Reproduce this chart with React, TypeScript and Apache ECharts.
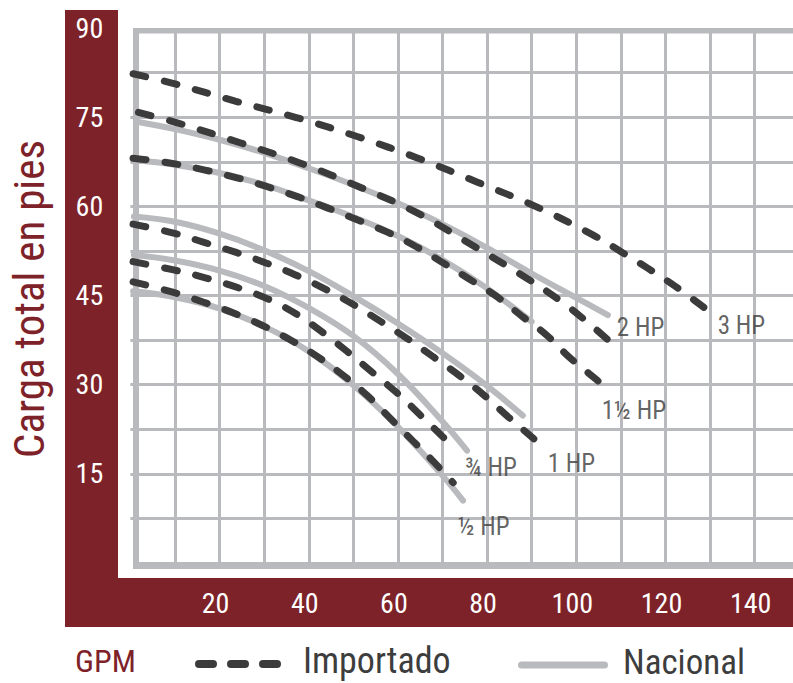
import React, { useEffect, useRef } from 'react';
import * as echarts from 'echarts';

const FONT = "'Liberation Sans Narrow', 'Roboto Condensed', 'DejaVu Sans Condensed', 'Arial Narrow', sans-serif";
const RED = '#7e2229';
const GRID = '#b9babd';
const DARK = '#3b3b3c';
const NAC = '#b9babd';

// Importado (dashed) curves: [GPM, ft]
const imp3HP = [[0.6, 82.3], [10, 80.6], [23.5, 77.7], [37.4, 74.9], [51, 71.7], [64.5, 68.1], [77.7, 64.1], [91.1, 59.9], [103.7, 55.2], [110.4, 52.2], [116, 49.6], [122.1, 46.6], [130, 42.2]];
const imp2HP = [[1.8, 75.8], [10.7, 74.0], [24.6, 70.7], [38, 67.3], [51.9, 63.1], [64.3, 58.9], [76.6, 53.5], [88.9, 47.9], [97, 43.8], [103, 40.2], [108.2, 36.8]];
const imp15HP = [[0.6, 68.1], [8.8, 67.3], [16.7, 66.1], [23.9, 64.8], [30.7, 63.3], [37.6, 61.6], [44.3, 59.7], [51, 57.7], [57.5, 55.7], [63.4, 53.5], [69.9, 50.6], [75.7, 47.9], [82.2, 44.8], [88, 41.4], [93.4, 38.3], [98.6, 34.5], [104.6, 30.8], [106.2, 29.6]];
const imp1HP = [[0.6, 57.0], [9.7, 55.5], [16.7, 53.9], [23.9, 52.2], [30.7, 50.4], [36.9, 48.5], [43.6, 46.1], [50.2, 43.4], [56.2, 40.6], [62, 37.8], [67.9, 34.7], [74, 31.4], [79.5, 28.1], [84.7, 24.6], [90.3, 21], [91.4, 20.2]];
const imp34HP = [[0.6, 50.7], [9.7, 49.3], [17.2, 47.9], [24.2, 46.3], [30.9, 44.4], [37.4, 41.8], [43.3, 38.7], [48.6, 35.6], [54.2, 32.1], [59.8, 28.6], [65, 24.9], [70.1, 21.2], [71.7, 20.0]];
const imp12HP = [[0.6, 47.3], [9.3, 45.6], [16.3, 43.9], [23, 42.1], [29.5, 40], [36.2, 37.4], [41.8, 34.8], [47.7, 31.6], [53.1, 28.2], [58.2, 24.4], [63.4, 20.5], [68.3, 16.8], [72.4, 13.5]];

// Nacional (solid gray) curves
const nac2HP = [[1.8, 74.2], [10, 73.0], [20, 71.2], [30, 69.0], [40, 66.4], [50, 63.6], [60, 60.5], [70, 57.0], [80, 53.0], [90, 48.7], [100, 44.6], [107.1, 41.7]];
const nac15HP = [[0.8, 67.8], [10, 67.0], [20, 65.6], [30, 63.6], [40, 61.0], [50, 58.2], [60, 55.0], [70, 51.0], [80, 46.2], [90, 40.6]];
const nac1HP = [[0.8, 58.3], [10, 57.4], [20, 55.4], [30, 52.6], [40, 49.1], [50, 44.9], [60, 40.3], [70, 35.3], [80, 29.8], [88, 24.8]];
const nac34HP = [[0.8, 51.8], [10, 50.9], [20, 49.2], [30, 46.6], [40, 42.9], [50, 38.2], [60, 31.8], [70, 23.8], [75.5, 18.9]];
const nac12HP = [[0.6, 45.7], [10, 44.7], [20, 42.8], [30, 39.8], [40, 35.6], [50, 29.9], [60, 22.9], [70, 14.7], [74.6, 10.5]];

const hpLabels = ['3 HP', '2 HP', '1½ HP', '1 HP', '¾ HP', '½ HP'];
const hpLabelAt = [[131.7, 40.0], [109.1, 39.7], [105.7, 25.6], [93.6, 16.7], [75.0, 16.0], [73.4, 6.1]];

const xTickLabels = [20, 40, 60, 80, 100, 120, 140];
const yTickLabels = [15, 30, 45, 60, 75, 90];

const yTitle = 'Carga total en pies';
const xTitle = 'GPM';
const legendNames = ['Importado', 'Nacional'];

function dashed(data: number[][]) {
  return {
    type: 'line', data, smooth: 0.4, showSymbol: false, silent: true, z: 3,
    lineStyle: { color: DARK, width: 7, type: [13, 19], cap: 'round' },
  };
}
function solid(data: number[][]) {
  return {
    type: 'line', data, smooth: 0.4, showSymbol: false, silent: true, z: 2,
    lineStyle: { color: NAC, width: 6, cap: 'round' },
  };
}

export default function App() {
  const ref = useRef<HTMLDivElement>(null);
  useEffect(() => {
    const chart = echarts.init(ref.current!, null, { renderer: 'svg' });
    const option: any = {
      animation: false,
      backgroundColor: '#fff',
      grid: { left: 130.4, top: 28, width: 662.6, height: 535 },
      xAxis: {
        type: 'value', min: 0, max: 148.6, interval: 10, z: 1,
        axisLine: { show: false }, axisTick: { show: false },
        splitLine: { show: true, showMinLine: false, showMaxLine: false, lineStyle: { color: GRID, width: 3 } },
        axisLabel: {
          formatter: (v: number) => (xTickLabels.includes(Math.round(v)) && Math.abs(v - Math.round(v)) < 1e-6 ? String(Math.round(v)) : ''),
          color: '#fff', fontSize: 28, fontFamily: FONT, margin: 40, verticalAlign: 'middle', padding: [0, 8, 0, 0],
          showMinLabel: false, showMaxLabel: false,
        },
      },
      yAxis: {
        type: 'value', min: 0, max: 90, interval: 7.5, z: 1,
        axisLine: { show: false }, axisTick: { show: false },
        splitLine: { show: true, showMinLine: false, showMaxLine: false, lineStyle: { color: GRID, width: 3 } },
        axisLabel: {
          formatter: (v: number) => (yTickLabels.includes(v) ? String(v) : ''),
          color: '#fff', fontSize: 28, fontFamily: FONT, margin: 41, align: 'center', verticalAlign: 'middle', padding: [8, 0, 0, 0],
        },
      },
      series: [
        solid(nac2HP), solid(nac15HP), solid(nac1HP), solid(nac34HP), solid(nac12HP),
        dashed(imp3HP), dashed(imp2HP), dashed(imp15HP), dashed(imp1HP), dashed(imp34HP), dashed(imp12HP),
        {
          type: 'scatter', silent: true, z: 4, symbolSize: 0,
          data: hpLabelAt.map((p, i) => ({ value: p, name: hpLabels[i] })),
          label: { show: true, position: 'right', distance: 0, formatter: '{b}', color: DARK, fontSize: 25, fontFamily: FONT },
        },
      ],
      graphic: [
        { type: 'rect', z: 0, shape: { x: 65, y: 10, width: 53, height: 617 }, style: { fill: RED } },
        { type: 'rect', z: 0, shape: { x: 65, y: 578, width: 728, height: 49 }, style: { fill: RED } },
        { type: 'rect', z: 1, shape: { x: 133, y: 28, width: 660, height: 5.5 }, style: { fill: GRID } },
        { type: 'rect', z: 1, shape: { x: 133, y: 28, width: 6, height: 541 }, style: { fill: GRID } },
        { type: 'rect', z: 1, shape: { x: 133, y: 562, width: 660, height: 7 }, style: { fill: GRID } },
        {
          type: 'text', z: 5, x: 29, y: 299, rotation: Math.PI / 2,
          style: { text: yTitle, fill: RED, fontSize: 43, fontFamily: FONT, align: 'center', verticalAlign: 'middle' },
        },
        {
          type: 'text', z: 5, x: 75, y: 661,
          style: { text: xTitle, fill: RED, fontSize: 32, fontFamily: FONT, align: 'left', verticalAlign: 'middle' },
        },
        {
          type: 'line', z: 5, shape: { x1: 199, y1: 664, x2: 278, y2: 664 },
          style: { stroke: DARK, lineWidth: 8, lineDash: [14, 18], lineCap: 'round' },
        },
        {
          type: 'text', z: 5, x: 303, y: 661,
          style: { text: legendNames[0], fill: '#3d3d3d', fontSize: 36, fontFamily: FONT, align: 'left', verticalAlign: 'middle' },
        },
        {
          type: 'line', z: 5, shape: { x1: 521.5, y1: 665, x2: 604.5, y2: 665 },
          style: { stroke: NAC, lineWidth: 7, lineCap: 'round' },
        },
        {
          type: 'text', z: 5, x: 623, y: 662,
          style: { text: legendNames[1], fill: '#3d3d3d', fontSize: 35, fontFamily: FONT, align: 'left', verticalAlign: 'middle' },
        },
      ],
    };
    chart.setOption(option);
    return () => chart.dispose();
  }, []);
  return <div ref={ref} style={{ position: 'fixed', left: 0, top: 0, width: 793, height: 683, background: '#fff' }} />;
}
